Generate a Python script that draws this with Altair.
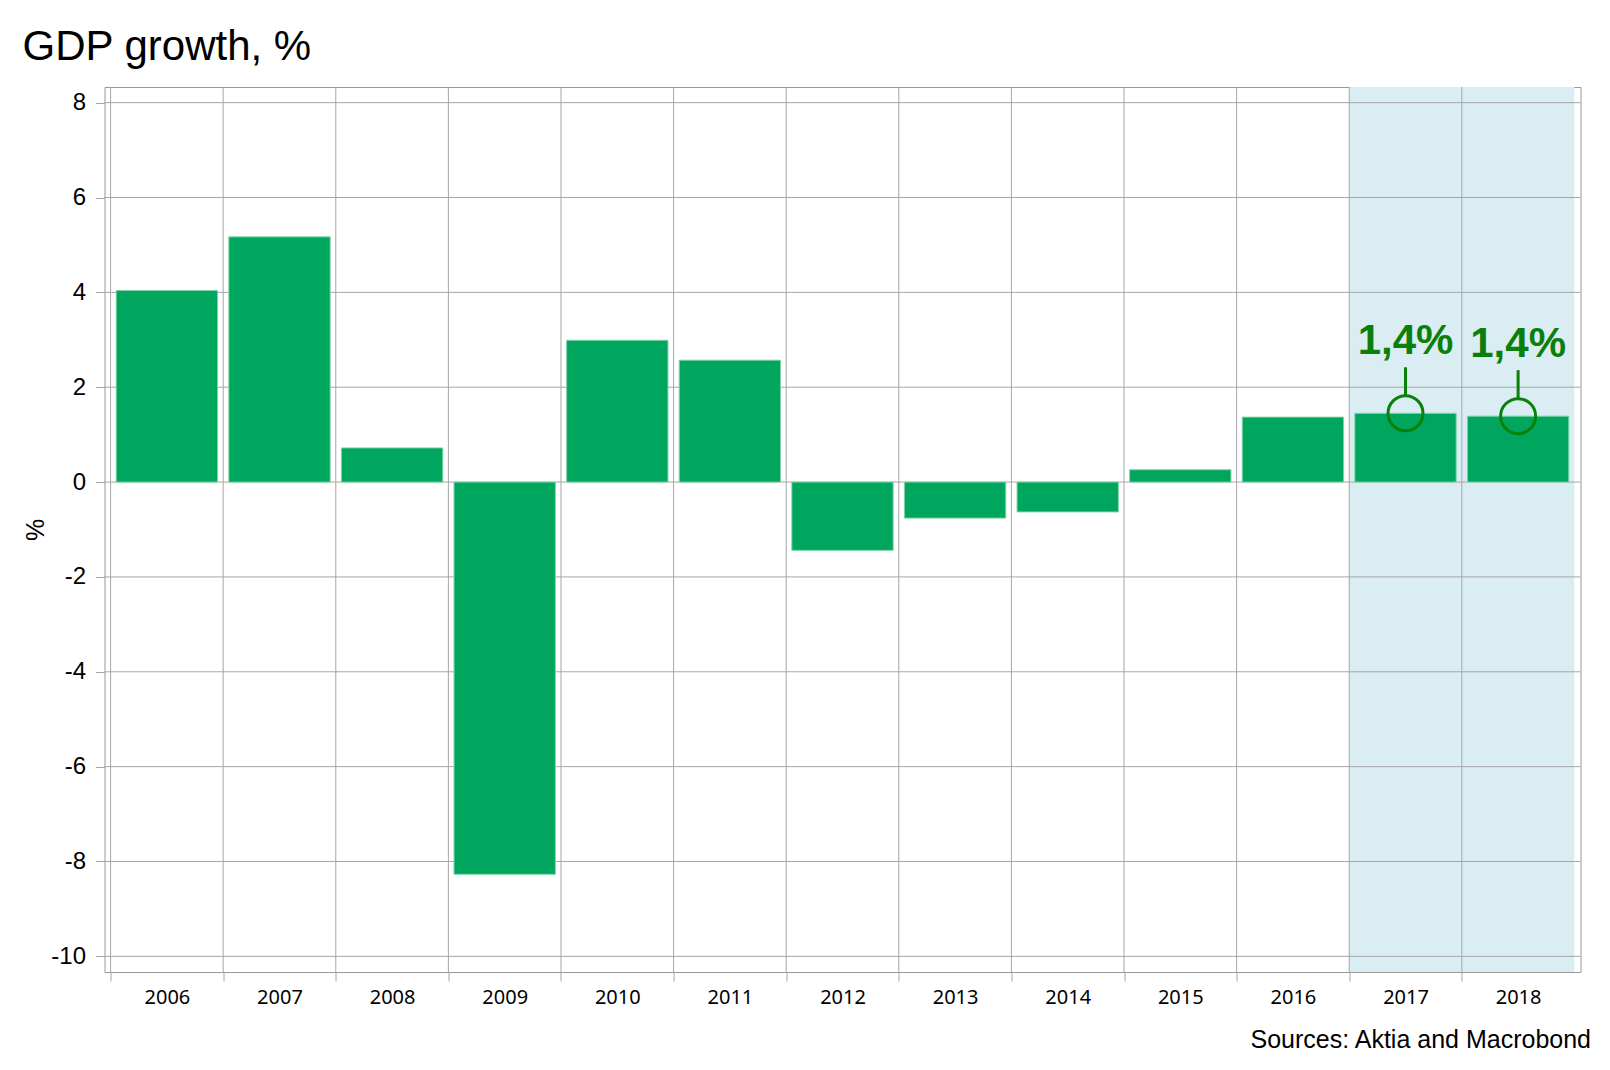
import altair as alt
import pandas as pd

# ---- data ----
years = ["2006", "2007", "2008", "2009", "2010", "2011", "2012",
         "2013", "2014", "2015", "2016", "2017", "2018"]
growth = [4.04, 5.17, 0.72, -8.27, 2.99, 2.57, -1.44,
          -0.76, -0.63, 0.26, 1.37, 1.45, 1.39]
y_ticks = [-10, -8, -6, -4, -2, 0, 2, 4, 6, 8]
shade_years = ["2017", "2018"]
note_years = ["2017", "2018"]
note_values = [1.45, 1.39]
note_labels = ["1,4%", "1,4%"]

title_text = "GDP growth, %"
source_text = "Sources: Aktia and Macrobond"

# ---- layout / style ----
W, H = 1476, 885
PAD_OUTER = 0.054
STEP = W / (len(years) + 2 * PAD_OUTER)
GREEN = "#00a65e"
NOTE_GREEN = "#0a800a"
GRID = "#a6a6a6"
SHADE = "#daedf3"
ARIAL = "Liberation Sans"

bars_df = pd.DataFrame({"year": years, "value": growth})
shade_df = pd.DataFrame({"year": shade_years})
ticks_df = pd.DataFrame({"value": y_ticks})
notes_df = pd.DataFrame({"year": note_years, "value": note_values, "label": note_labels})

xscale = alt.Scale(domain=years, paddingInner=0, paddingOuter=PAD_OUTER)
yscale = alt.Scale(domain=[-10.33, 8.33], nice=False, zero=False)

shade = alt.Chart(shade_df).mark_rect(color=SHADE).encode(
    x=alt.X("year:O", scale=xscale),
    y=alt.value(0), y2=alt.value(H),
)

vgrid = alt.Chart(bars_df).mark_rule(color=GRID, strokeWidth=1).encode(
    x=alt.X("year:O", scale=xscale, bandPosition=0),
)

hgrid = alt.Chart(ticks_df).mark_rule(color=GRID, strokeWidth=1).encode(
    y=alt.Y("value:Q", scale=yscale),
)

bars = alt.Chart(bars_df).mark_bar(
    width={"band": 0.9}, color=GREEN, stroke="#7fd4aa", strokeWidth=1
).encode(
    x=alt.X(
        "year:O", scale=xscale,
        axis=alt.Axis(
            labelAngle=0, labelAlign="center", domain=False, grid=False,
            tickOffset=-STEP / 2, labelOffset=STEP / 2,
            tickSize=9, tickColor=GRID, labelFont="Noto Sans", labelFontSize=20,
            labelColor="black", labelPadding=16,
            title=source_text, titleFont=ARIAL, titleFontSize=25,
            titleFontWeight="normal", titleColor="black",
            titleAlign="right", titleAnchor="end", titleBaseline="alphabetic",
            titleX=W + 10, titleY=75,
        ),
    ),
    y=alt.Y(
        "value:Q", scale=yscale,
        axis=alt.Axis(
            values=y_ticks, labelExpr="'' + datum.value",
            domain=False, grid=False, tickSize=9, tickColor=GRID,
            labelFont=ARIAL, labelFontSize=24, labelColor="black", labelPadding=10,
            title="%", titleFont=ARIAL, titleFontSize=25, titleFontWeight="normal",
            titleColor="black", titleX=-69, titleY=H / 2, titleAngle=270,
            titleAlign="center", titleBaseline="middle",
        ),
    ),
)

circles = alt.Chart(notes_df).mark_point(
    shape="circle", filled=False, size=1225, strokeWidth=3, color=NOTE_GREEN, opacity=1
).encode(
    x=alt.X("year:O", scale=xscale),
    y=alt.Y("value:Q", scale=yscale),
)

stems = alt.Chart(notes_df).mark_rule(
    color=NOTE_GREEN, strokeWidth=3, yOffset=-17, y2Offset=-46
).encode(
    x=alt.X("year:O", scale=xscale),
    y=alt.Y("value:Q", scale=yscale),
    y2="value:Q",
)

labels = alt.Chart(notes_df).mark_text(
    font=ARIAL, fontWeight="bold", fontSize=42, color=NOTE_GREEN,
    baseline="alphabetic", align="center", dy=-59
).encode(
    x=alt.X("year:O", scale=xscale),
    y=alt.Y("value:Q", scale=yscale),
    text="label:N",
)

chart = alt.layer(
    shade, vgrid, hgrid, bars, circles, stems, labels
).properties(
    width=W, height=H,
    title=alt.TitleParams(
        title_text, anchor="start", frame="group", font=ARIAL, fontSize=42,
        fontWeight="normal", color="black", dx=-82, offset=17.5,
    ),
    padding={"left": 14.5, "top": 18, "right": 0, "bottom": 0},
).configure_view(
    stroke="#999999", strokeWidth=1
)

chart.save("out.html", embed_options={"renderer": "svg", "actions": False})
